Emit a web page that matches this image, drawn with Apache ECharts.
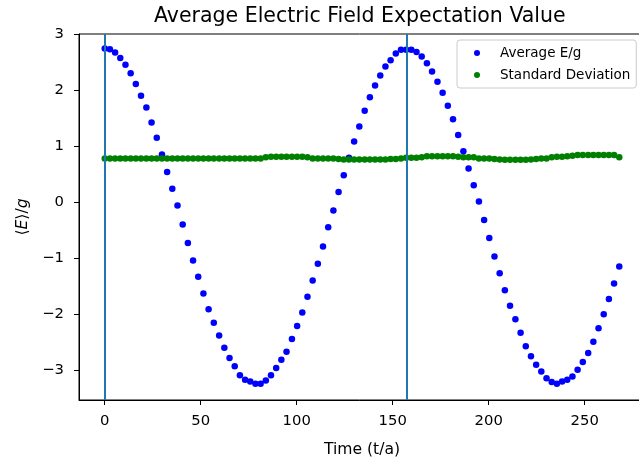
<!DOCTYPE html>
<html>
<head>
<meta charset="utf-8">
<script src="https://cdn.jsdelivr.net/npm/echarts@6/dist/echarts.min.js"></script>
<style>
  html, body { margin: 0; padding: 0; background: #fff; }
  #chart { width: 639px; height: 462px; }
</style>
</head>
<body>
<div id="chart"></div>
<script>
// Sample times (t/a)
const times = [
  0, 2.7, 5.4, 8.1, 10.8, 13.5, 16.2, 18.9, 21.7, 24.4,
  27.1, 29.8, 32.5, 35.2, 37.9, 40.6, 43.3, 46.0, 48.7, 51.4,
  54.1, 56.8, 59.6, 62.3, 65.0, 67.7, 70.4, 73.1, 75.8, 78.5,
  81.2, 83.9, 86.6, 89.3, 92.0, 94.7, 97.5, 100.2, 102.9, 105.6,
  108.3, 111.0, 113.7, 116.4, 119.1, 121.8, 124.5, 127.2, 129.9, 132.6,
  135.4, 138.1, 140.8, 143.5, 146.2, 148.9, 151.6, 154.3, 157.0, 159.7,
  162.4, 165.1, 167.8, 170.5, 173.3, 176.0, 178.7, 181.4, 184.1, 186.8,
  189.5, 192.2, 194.9, 197.6, 200.3, 203.0, 205.7, 208.4, 211.1, 213.9,
  216.6, 219.3, 222.0, 224.7, 227.4, 230.1, 232.8, 235.5, 238.2, 240.9,
  243.6, 246.3, 249.0, 251.8, 254.5, 257.2, 259.9, 262.6, 265.3, 268.0
];

// Average E/g at each time
const avgField = [
  2.74, 2.73, 2.67, 2.57, 2.45, 2.30, 2.11, 1.90, 1.69, 1.42,
  1.15, 0.85, 0.54, 0.24, -0.06, -0.40, -0.73, -1.04, -1.33, -1.63,
  -1.91, -2.15, -2.38, -2.60, -2.78, -2.93, -3.09, -3.17, -3.20, -3.24,
  -3.24, -3.18, -3.09, -2.96, -2.81, -2.67, -2.44, -2.21, -1.97, -1.69,
  -1.40, -1.10, -0.79, -0.45, -0.15, 0.18, 0.48, 0.79, 1.08, 1.35,
  1.63, 1.87, 2.08, 2.26, 2.42, 2.53, 2.65, 2.72, 2.72, 2.72,
  2.68, 2.60, 2.48, 2.33, 2.15, 1.95, 1.72, 1.48, 1.20, 0.91,
  0.60, 0.30, 0.01, -0.32, -0.64, -0.97, -1.27, -1.57, -1.85, -2.09,
  -2.33, -2.57, -2.75, -2.90, -3.02, -3.14, -3.21, -3.24, -3.20, -3.17,
  -3.11, -2.99, -2.85, -2.69, -2.49, -2.25, -2.00, -1.73, -1.45, -1.15
];

// Standard deviation at each time
const stdDev = [
  0.78, 0.78, 0.78, 0.78, 0.78, 0.78, 0.78, 0.78, 0.78, 0.78,
  0.78, 0.78, 0.78, 0.78, 0.78, 0.78, 0.78, 0.78, 0.78, 0.78,
  0.78, 0.78, 0.78, 0.78, 0.78, 0.78, 0.78, 0.78, 0.78, 0.78,
  0.78, 0.80, 0.81, 0.81, 0.81, 0.81, 0.81, 0.81, 0.81, 0.80,
  0.78, 0.78, 0.78, 0.78, 0.78, 0.77, 0.76, 0.76, 0.76, 0.76,
  0.76, 0.76, 0.76, 0.76, 0.76, 0.77, 0.77, 0.78, 0.79, 0.79,
  0.79, 0.80, 0.82, 0.82, 0.82, 0.82, 0.82, 0.82, 0.81, 0.80,
  0.80, 0.80, 0.78, 0.78, 0.78, 0.77, 0.76, 0.755, 0.755, 0.755,
  0.755, 0.755, 0.76, 0.77, 0.78, 0.78, 0.80, 0.81, 0.81, 0.82,
  0.83, 0.84, 0.84, 0.84, 0.84, 0.84, 0.84, 0.84, 0.84, 0.80
];

// Axis ticks and reference lines
const xTicks = [0, 50, 100, 150, 200, 250];
const yTicks = [-3, -2, -1, 0, 1, 2, 3];
const vLines = [0, 157.1];

const FONT = 'DejaVu Sans';
const minus = v => String(v).replace('-', '\u2212');

const chart = echarts.init(document.getElementById('chart'), null, { renderer: 'canvas' });

chart.setOption({
  backgroundColor: '#fff',
  animation: false,
  title: {
    text: 'Average Electric Field Expectation Value',
    left: 154,
    top: 6,
    padding: 0,
    textStyle: { fontFamily: FONT, fontSize: 20.5, fontWeight: 'normal', color: '#000' }
  },
  legend: {
    orient: 'vertical',
    left: 457,
    top: 40,
    data: ['Average E/g', 'Standard Deviation'],
    icon: 'circle',
    itemWidth: 6,
    itemHeight: 6,
    itemGap: 6,
    padding: [5, 6, 5, 17],
    backgroundColor: 'rgba(255,255,255,0.8)',
    borderColor: '#cccccc',
    borderWidth: 1,
    borderRadius: 3,
    textStyle: {
      fontFamily: FONT, fontSize: 13.5, color: '#000', lineHeight: 16,
      padding: [0, 0, 0, 15]
    }
  },
  grid: {
    left: 79,
    right: -6,
    top: 34,
    bottom: 62,
    outerBoundsMode: 'none',
    containLabel: false,
    show: true,
    borderColor: '#000',
    borderWidth: 1,
    backgroundColor: 'transparent'
  },
  xAxis: {
    type: 'value',
    min: -13.4,
    max: 281.4,
    splitLine: { show: false },
    axisLine: { show: true, onZero: false, lineStyle: { color: '#000', width: 1 } },
    axisTick: { show: true, length: 5, customValues: xTicks, lineStyle: { color: '#000' } },
    axisLabel: {
      customValues: xTicks,
      formatter: minus,
      margin: 14,
      fontFamily: FONT, fontSize: 14.8, color: '#000'
    },
    name: 'Time (t/a)',
    nameLocation: 'middle',
    nameGap: 42,
    nameTextStyle: { fontFamily: FONT, fontSize: 15.6, color: '#000' }
  },
  yAxis: {
    type: 'value',
    min: -3.53,
    max: 3,
    splitLine: { show: false },
    axisLine: { show: true, onZero: false, lineStyle: { color: '#000', width: 1 } },
    axisTick: { show: true, length: 5, customValues: yTicks, lineStyle: { color: '#000' } },
    axisLabel: {
      customValues: yTicks,
      formatter: minus,
      margin: 15,
      fontFamily: FONT, fontSize: 14.8, color: '#000'
    },
    name: '{n|\u27E8}{i|E}{n|\u27E9/}{i|g}',
    nameLocation: 'middle',
    nameGap: 48,
    nameRotate: 90,
    nameTextStyle: {
      fontFamily: FONT, fontSize: 15.6, color: '#000',
      rich: {
        n: { fontFamily: FONT, fontSize: 15.6, color: '#000' },
        i: { fontFamily: FONT, fontSize: 15.6, fontStyle: 'italic', color: '#000' }
      }
    }
  },
  series: [
    {
      name: 'Average E/g',
      type: 'scatter',
      symbol: 'circle',
      symbolSize: 6.5,
      itemStyle: { color: '#0000ff', opacity: 1 },
      data: times.map((t, i) => [t, avgField[i]]),
      z: 2
    },
    {
      name: 'Standard Deviation',
      type: 'scatter',
      symbol: 'circle',
      symbolSize: 6.5,
      itemStyle: { color: '#008000', opacity: 1 },
      data: times.map((t, i) => [t, stdDev[i]]),
      z: 3
    },
    {
      name: 'markers',
      type: 'scatter',
      data: [],
      z: 4,
      markLine: {
        silent: true,
        symbol: ['none', 'none'],
        label: { show: false },
        lineStyle: { color: '#1f77b4', width: 2, type: 'solid' },
        data: vLines.map(v => ({ xAxis: v }))
      }
    }
  ]
});
</script>
</body>
</html>
